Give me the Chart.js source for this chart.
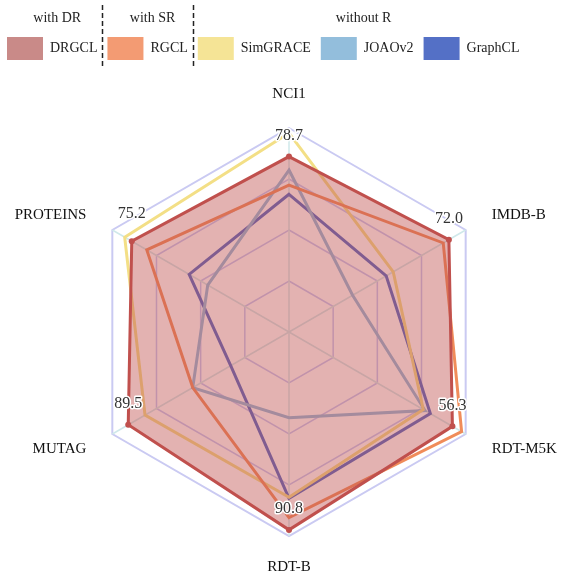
<!DOCTYPE html>
<html>
<head>
<meta charset="utf-8">
<script src="https://cdn.jsdelivr.net/npm/chart.js@4.4.1/dist/chart.umd.min.js"></script>
<style>
  html, body { margin: 0; padding: 0; background: #fff; }
  #wrap { width: 571px; height: 573px; }
</style>
</head>
<body>
<div id="wrap"><canvas id="radar"></canvas></div>
<script>
const axes = ["NCI1", "IMDB-B", "RDT-M5K", "RDT-B", "MUTAG", "PROTEINS"];
// share of each axis (0-100)
const drgcl = [86, 90.5, 92.5, 97, 91, 89];
const rgcl = [72, 87.3, 97.7, 91, 54.5, 80.5];
const simgrace = [97.5, 59, 76, 81, 81.5, 93];
const joaov2 = [79.4, 36, 77, 42, 54.5, 46];
const graphcl = [67.5, 55, 80, 81.5, 33, 56.5];
// numbers printed above the DRGCL points
const drgclLabels = ["78.7", "72.0", "56.3", "90.8", "89.5", "75.2"];

const names = ["DRGCL", "RGCL", "SimGRACE", "JOAOv2", "GraphCL"];
const lineColors = ["#c0504d", "#f08c5a", "#f3df86", "#8fb9db", "#4f67c4"];
const legendColors = ["#c98a88", "#f39b73", "#f5e496", "#93bedc", "#5470c6"];
const groups = [
  { title: "with DR", items: [0] },
  { title: "with SR", items: [1] },
  { title: "without R", items: [2, 3, 4] }
];

const serif = "'Liberation Serif', 'Times New Roman', serif";

const groupHeaders = {
  id: "groupHeaders",
  afterDraw(chart) {
    const boxes = chart.legend.legendHitBoxes;
    if (!boxes || !boxes.length) return;
    const ctx = chart.ctx;
    ctx.save();
    ctx.font = "14px " + serif;
    ctx.fillStyle = "#222";
    ctx.textAlign = "center";
    ctx.textBaseline = "middle";
    const top = boxes[0].top;
    groups.forEach((g, gi) => {
      const first = boxes[g.items[0]];
      const last = boxes[g.items[g.items.length - 1]];
      const left = first.left;
      const right = last.left + last.width;
      ctx.fillText(g.title, (left + right) / 2 + 5, top - 19);
      if (gi > 0) {
        const prev = boxes[groups[gi - 1].items[groups[gi - 1].items.length - 1]];
        const x = Math.round((prev.left + prev.width + left) / 2) + 0.5;
        ctx.beginPath();
        ctx.setLineDash([5, 3]);
        ctx.strokeStyle = "#222";
        ctx.lineWidth = 1.5;
        ctx.moveTo(x, top - 32);
        ctx.lineTo(x, top + 29);
        ctx.stroke();
      }
    });
    ctx.restore();
  }
};

const radarText = {
  id: "radarText",
  afterDatasetsDraw(chart) {
    const ctx = chart.ctx;
    const r = chart.scales.r;
    ctx.save();
    // axis names
    ctx.font = "15px " + serif;
    ctx.fillStyle = "#111";
    axes.forEach((name, i) => {
      const gap = i === 0 ? 34 : (i === 3 ? 31 : 30);
      const p = r.getPointPosition(i, r.drawingArea + gap);
      ctx.textBaseline = "middle";
      ctx.textAlign = (i === 0 || i === 3) ? "center" : (p.x > r.xCenter ? "left" : "right");
      ctx.fillText(name, p.x, p.y);
    });
    // DRGCL values
    const meta = chart.getDatasetMeta(0);
    ctx.font = "16px " + serif;
    ctx.textAlign = "center";
    ctx.textBaseline = "middle";
    ctx.lineJoin = "round";
    meta.data.forEach((pt, i) => {
      const y = pt.y - (i === 5 ? 27 : 21);
      ctx.strokeStyle = "#fff";
      ctx.lineWidth = 3;
      ctx.strokeText(drgclLabels[i], pt.x, y);
      ctx.fillStyle = "#333";
      ctx.fillText(drgclLabels[i], pt.x, y);
    });
    ctx.restore();
  }
};

const series = [drgcl, rgcl, simgrace, joaov2, graphcl];

new Chart(document.getElementById("radar"), {
  type: "radar",
  data: {
    labels: axes,
    datasets: series.map((values, i) => ({
      label: names[i],
      data: values,
      borderColor: lineColors[i],
      borderWidth: 3,
      backgroundColor: i === 0 ? "rgba(192, 80, 77, 0.44)" : "transparent",
      fill: i === 0,
      pointRadius: i === 0 ? 3 : 0,
      pointBackgroundColor: lineColors[i],
      pointBorderWidth: 0,
      tension: 0
    }))
  },
  options: {
    responsive: true,
    maintainAspectRatio: false,
    animation: false,
    layout: { padding: { top: 27, left: -3, right: 0, bottom: 37 } },
    plugins: {
      tooltip: { enabled: false },
      legend: {
        position: "top",
        align: "start",
        labels: {
          boxWidth: 36,
          boxHeight: 23,
          padding: 10,
          useBorderRadius: true,
          borderRadius: 5,
          color: "#222",
          font: { family: serif, size: 14 },
          generateLabels: (chart) => names.map((n, i) => ({
            text: n,
            fillStyle: legendColors[i],
            strokeStyle: legendColors[i],
            lineWidth: 0,
            fontColor: "#222",
            datasetIndex: i,
            hidden: false
          }))
        }
      },
      subtitle: {
        display: true,
        text: "",
        weight: 500,
        font: { size: 10 },
        padding: { top: 0, bottom: 46 }
      }
    },
    scales: {
      r: {
        min: 0,
        max: 100,
        ticks: { display: false, stepSize: 25 },
        pointLabels: { display: false },
        grid: {
          circular: false,
          color: (c) => c.index === 4 ? "#cacaf2" : "rgba(175, 180, 240, 0.75)",
          lineWidth: (c) => c.index === 4 ? 2 : 1.5
        },
        angleLines: { color: "#cfe8ea", lineWidth: 1.5 },
        // the plot sits a little right of the middle of the page
        afterFit: (scale) => { scale.xCenter += 4; }
      }
    }
  },
  plugins: [groupHeaders, radarText]
});
</script>
</body>
</html>
